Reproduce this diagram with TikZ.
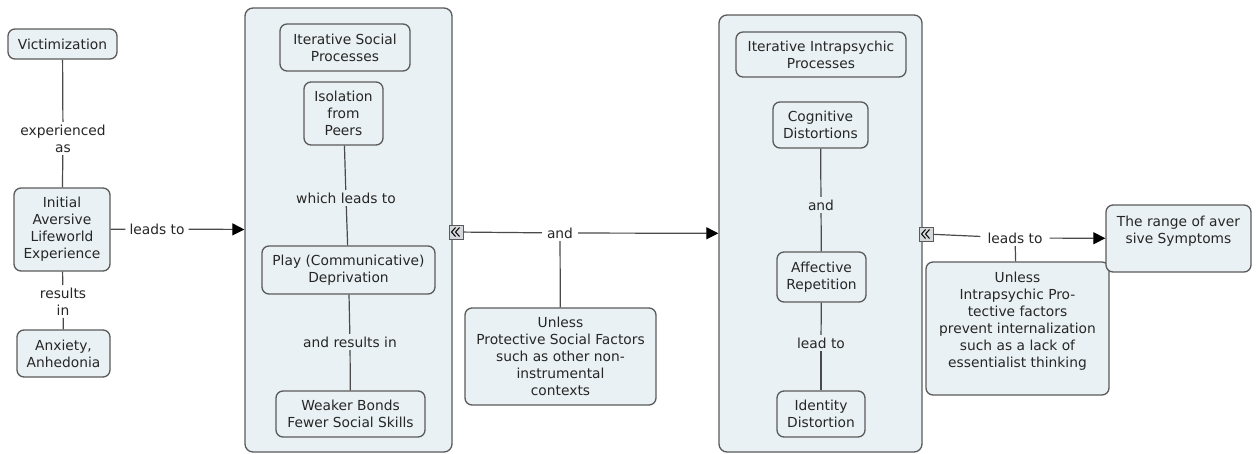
\documentclass[tikz,border=0pt]{standalone}
\usepackage{fontspec}
\setmainfont{DejaVu Sans}
\usetikzlibrary{arrows.meta}
\definecolor{boxfill}{HTML}{EAF1F4}
\definecolor{edgecol}{HTML}{5A5A5A}
\definecolor{linecol}{HTML}{4A4A4A}
\definecolor{txt}{HTML}{262626}
\definecolor{markfill}{HTML}{D6D9DB}
\begin{document}
\begin{tikzpicture}[x=1pt,y=-1pt,
  every node/.style={font=\fontsize{13.8}{17}\selectfont, text=txt},
  concept/.style={draw=edgecol, fill=boxfill, rounded corners=7pt, line width=1.3pt,
    align=center, inner sep=0pt},
  groupbox/.style={draw=edgecol, fill=boxfill, rounded corners=8pt, line width=1.3pt, inner sep=0pt},
  lbl/.style={align=center, inner sep=2.5pt},
  link/.style={draw=linecol, line width=1.2pt},
  arrowlink/.style={link, -{Triangle[length=12pt,width=12pt,fill=black,color=black]}},
  marker/.style={draw=edgecol, fill=markfill, minimum size=14pt, inner sep=0pt, line width=1pt,
    path picture={
      \draw[line width=1pt, black]
        ([shift={(-0.5pt,-4.5pt)}]path picture bounding box.center) -- ++(-4pt,4.5pt) -- ++(4pt,4.5pt)
        ([shift={(3.5pt,-4.5pt)}]path picture bounding box.center) -- ++(-4pt,4.5pt) -- ++(4pt,4.5pt);
    }}
]
\useasboundingbox (0,0) rectangle (1256,453);

% group containers
\node[groupbox, minimum width=207pt, minimum height=444pt] (g1) at (348.5,230) {};
\node[groupbox, minimum width=203pt, minimum height=437pt] (g2) at (820.5,233.5) {};

% left column
\node[concept, minimum width=109pt, minimum height=30pt] (vict) at (62.5,44) {Victimization};
\node[concept, minimum width=96pt, minimum height=83pt] (init) at (62,229.5) {Initial\\Aversive\\Lifeworld\\Experience};
\node[concept, minimum width=93pt, minimum height=47pt] (anx) at (63.5,353.5) {Anxiety,\\Anhedonia};

% social processes
\node[concept, minimum width=130pt, minimum height=47pt] (soc) at (345,47.5) {Iterative Social\\Processes};
\node[concept, minimum width=79pt, minimum height=63pt] (iso) at (343.5,113.5) {Isolation\\from\\Peers};
\node[concept, minimum width=173pt, minimum height=48pt] (play) at (348.5,270) {Play (Communicative)\\Deprivation};
\node[concept, minimum width=149pt, minimum height=46pt] (weak) at (350.5,414) {Weaker Bonds\\Fewer Social Skills};

\node[concept, minimum width=191pt, minimum height=97pt] (unl1) at (560.5,356.5)
  {Unless\\Protective Social Factors\\such as other non-\\instrumental\\contexts};

% intrapsychic processes
\node[concept, minimum width=170pt, minimum height=45pt] (intra) at (821,54.5) {Iterative Intrapsychic\\Processes};
\node[concept, minimum width=95pt, minimum height=46pt] (cog) at (820.5,125) {Cognitive\\Distortions};
\node[concept, minimum width=89pt, minimum height=50pt] (aff) at (821.5,277) {Affective\\Repetition};
\node[concept, minimum width=88pt, minimum height=46pt] (idn) at (821,414) {Identity\\Distortion};

\node[concept] (unl2) at (1017.5,328.5)
  {\parbox[c][133pt][t]{183pt}{\centering\rule{0pt}{20pt}Unless\\Intrapsychic Pro-\\tective factors\\prevent internalization\\such as a lack of\\essentialist thinking}};
\node[concept] (rng) at (1178.5,238.5)
  {\parbox[c][67pt][t]{145pt}{\centering\rule{0pt}{21.5pt}The range of aver\\sive Symptoms}};

% link labels
\node[lbl] (l1) at (63,138.5) {experienced\\as};
\node[lbl] (l2) at (63,301.5) {results\\in};
\node[lbl, inner xsep=4pt] (l3) at (157,229) {leads to};
\node[lbl] (l4) at (346,198) {which leads to};
\node[lbl] (l5) at (350,342) {and results in};
\node[lbl, inner xsep=5pt] (l6) at (560,233) {and};
\node[lbl] (l7) at (821,205) {and};
\node[lbl] (l8) at (821,343) {lead to};
\node[lbl, inner xsep=7pt] (l9) at (1015,238) {leads to};

% collapse markers on the containers
\node[marker] (m1) at (456,232) {};
\node[marker] (m2) at (926,234) {};

% connectors
\draw[link] (vict) -- (l1);
\draw[link] (l1) -- (init);
\draw[link] (init) -- (l2);
\draw[link] (l2) -- (anx);
\draw[link] (init) -- (l3);
\draw[arrowlink] (l3) -- (g1);

\draw[link] (iso) -- (l4);
\draw[link] (l4) -- (play);
\draw[link] (play) -- (l5);
\draw[link] (l5) -- (weak);

\draw[link] (m1) -- (l6);
\draw[arrowlink] (l6) -- (g2);
\draw[link] (l6) -- (unl1);

\draw[link] (cog) -- (l7);
\draw[link] (l7) -- (aff);
\draw[link] (aff) -- (l8);
\draw[link] (l8) -- (idn);

\draw[link] (m2) -- (l9);
\draw[arrowlink] (l9) -- (rng);
\draw[link] (l9) -- (unl2);
\end{tikzpicture}
\end{document}
